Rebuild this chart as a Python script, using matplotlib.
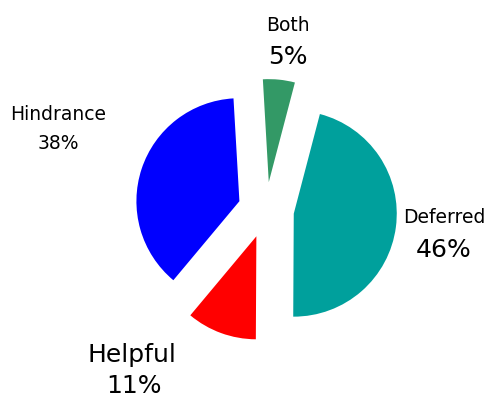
import matplotlib
matplotlib.use("Agg")
import matplotlib.pyplot as plt

categories = ["Both", "Deferred", "Helpful", "Hindrance"]
values = [5, 46, 11, 38]
pct_labels = ["5%", "46%", "11%", "38%"]
colors = ["#339966", "#00A09C", "#FF0000", "#0000FF"]

W, H = 487, 399
fig = plt.figure(figsize=(W / 100, H / 100), dpi=100)
ax = fig.add_axes([0, 0, 1, 1])

cx, cy = 266, H - 210
radius = 103
expl = 28

ax.pie(values, colors=colors, startangle=93.3, counterclock=False,
       center=(cx, cy), radius=radius, explode=[expl] * len(values),
       wedgeprops=dict(linewidth=0))

ax.set_xlim(0, W)
ax.set_ylim(0, H)
ax.set_aspect("equal")
ax.axis("off")

small, large = 13.5, 18
# (name position, name size, pct position, pct size) ; y as baseline from top
label_layout = {
    "Both": ((288, 31, small), (288, 64, large)),
    "Deferred": ((444, 223, small), (444, 257, large)),
    "Helpful": ((132, 362, large), (134, 393, large)),
    "Hindrance": ((58, 120, small), (58, 149, small)),
}
for name, pct in zip(categories, pct_labels):
    (nx, ny, ns), (px, py, ps) = label_layout[name]
    ax.text(nx, H - ny, name, ha="center", va="baseline", fontsize=ns,
            family="DejaVu Sans", color="black")
    ax.text(px, H - py, pct, ha="center", va="baseline", fontsize=ps,
            family="DejaVu Sans", color="black")

fig.savefig("out.png", dpi=100)
